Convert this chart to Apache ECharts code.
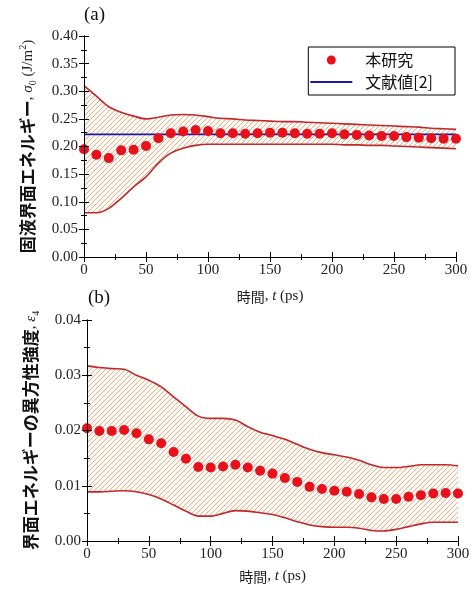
<!DOCTYPE html>
<html>
<head>
<meta charset="utf-8">
<script src="https://cdn.jsdelivr.net/npm/echarts@6/dist/echarts.min.js"></script>
<style>
  html, body { margin: 0; padding: 0; background: #fff; }
  #chart { width: 473px; height: 593px; }
</style>
</head>
<body>
<div id="chart"></div>
<script>
// time axis (ps)
const times = [0, 10, 20, 30, 40, 50, 60, 70, 80, 90, 100, 110, 120, 130, 140, 150,
  160, 170, 180, 190, 200, 210, 220, 230, 240, 250, 260, 270, 280, 290, 300];

// (a) solid-liquid interfacial energy
const sigmaMean = [0.195, 0.185, 0.179, 0.193, 0.194, 0.201, 0.215, 0.224, 0.227, 0.230, 0.228,
  0.224, 0.224, 0.223, 0.224, 0.225, 0.225, 0.224, 0.223, 0.223, 0.224, 0.222, 0.221, 0.220,
  0.219, 0.219, 0.217, 0.216, 0.215, 0.214, 0.214];
const sigmaUpper = [0.310, 0.291, 0.272, 0.262, 0.255, 0.250, 0.253, 0.257, 0.258, 0.257, 0.254,
  0.251, 0.250, 0.248, 0.247, 0.246, 0.245, 0.245, 0.244, 0.243, 0.242, 0.241, 0.240, 0.239,
  0.238, 0.237, 0.236, 0.235, 0.233, 0.232, 0.231];
const sigmaLower = [0.080, 0.080, 0.088, 0.106, 0.127, 0.145, 0.170, 0.188, 0.197, 0.202, 0.204,
  0.204, 0.204, 0.204, 0.204, 0.204, 0.204, 0.204, 0.204, 0.204, 0.204, 0.203, 0.203, 0.202,
  0.202, 0.201, 0.200, 0.199, 0.198, 0.197, 0.196];
const sigmaRef = 0.222;
const sigmaTicks = { min: 0, max: 0.4, interval: 0.05 };

// (b) anisotropy strength
const epsMean = [0.0204, 0.0199, 0.0199, 0.0201, 0.0195, 0.0184, 0.0177, 0.0161, 0.0149, 0.0134,
  0.0133, 0.0135, 0.0138, 0.0133, 0.0127, 0.0122, 0.0114, 0.0107, 0.0098, 0.0094, 0.0091,
  0.0089, 0.0085, 0.0079, 0.0076, 0.0076, 0.0080, 0.0083, 0.0086, 0.0087, 0.0086];
const epsUpper = [0.0317, 0.0314, 0.0312, 0.0311, 0.0300, 0.0291, 0.0279, 0.0261, 0.0243, 0.0226,
  0.0222, 0.0222, 0.0219, 0.0207, 0.0197, 0.0191, 0.0184, 0.0175, 0.0166, 0.0160, 0.0156,
  0.0152, 0.0146, 0.0138, 0.0133, 0.0133, 0.0135, 0.0138, 0.0138, 0.0138, 0.0136];
const epsLower = [0.0089, 0.0089, 0.0090, 0.0091, 0.0089, 0.0084, 0.0076, 0.0065, 0.0054, 0.0045,
  0.0045, 0.0050, 0.0055, 0.0054, 0.0051, 0.0048, 0.0042, 0.0035, 0.0029, 0.0026, 0.0025,
  0.0025, 0.0023, 0.0019, 0.0018, 0.0021, 0.0026, 0.0031, 0.0034, 0.0034, 0.0034];
const epsTicks = { min: 0, max: 0.04, interval: 0.01 };

const timeTicks = { min: 0, max: 300, interval: 50 };

const serif = '"Liberation Serif", "DejaVu Serif", serif';
const cjk = '"Noto Sans CJK JP", "Noto Sans", sans-serif';
const dotColor = '#e8101a';

// 斜線ハッチのパターン
function hatchPattern() {
    const s = 5;
    const c = document.createElement('canvas');
    c.width = s;
    c.height = s;
    const ctx = c.getContext('2d');
    ctx.fillStyle = '#fef8f2';
    ctx.fillRect(0, 0, s, s);
    ctx.strokeStyle = '#cfa07e';
    ctx.lineWidth = 0.75;
    ctx.beginPath();
    ctx.moveTo(-1, s + 1); ctx.lineTo(s + 1, -1);
    ctx.moveTo(-1, 1); ctx.lineTo(1, -1);
    ctx.moveTo(s - 1, s + 1); ctx.lineTo(s + 1, s - 1);
    ctx.stroke();
    return { image: c, repeat: 'repeat' };
}

const pair = (vals) => times.map((t, i) => [t, vals[i]]);

const axisLine = { show: true, lineStyle: { color: '#000', width: 1 } };
const tick = { show: true, inside: true, length: 5, lineStyle: { color: '#000' } };
const minor = { show: true, splitNumber: 2, length: 3, lineStyle: { color: '#000' } };

function xAxes(gridIndex, nameGap) {
    return [
        {
            type: 'value', gridIndex, ...timeTicks, z: 10,
            axisLine, axisTick: tick, minorTick: minor, splitLine: { show: false },
            axisLabel: { color: '#222', fontFamily: serif, fontSize: 15, margin: 6 },
            name: '{j|時間}{s|, }{i|t}{s| (ps)}',
            nameLocation: 'middle',
            nameGap,
            nameTextStyle: {
                rich: {
                    j: { fontFamily: cjk, fontSize: 14, color: '#222' },
                    s: { fontFamily: serif, fontSize: 15, color: '#222' },
                    i: { fontFamily: serif, fontSize: 15, fontStyle: 'italic', color: '#222' },
                },
            },
        },
        {
            type: 'value', gridIndex, position: 'top', ...timeTicks, z: 10,
            axisLine, axisTick: tick, minorTick: minor, splitLine: { show: false },
            axisLabel: { show: false },
        },
    ];
}

function yAxes(gridIndex, ticks, name, nameGap) {
    return [
        {
            type: 'value', gridIndex, ...ticks, z: 10,
            axisLine, axisTick: tick, minorTick: minor, splitLine: { show: false },
            axisLabel: {
                color: '#222', fontFamily: serif, fontSize: 15, margin: 6,
                formatter: (v) => v.toFixed(2),
            },
            name,
            nameLocation: 'middle',
            nameRotate: 90,
            nameGap,
            nameTextStyle: {
                rich: {
                    j: { fontFamily: cjk, fontSize: 17, fontWeight: 'bold', color: '#111' },
                    s: { fontFamily: serif, fontSize: 15, color: '#222' },
                    i: { fontFamily: serif, fontSize: 15, fontStyle: 'italic', color: '#222' },
                    sub: { fontFamily: serif, fontSize: 10, color: '#222', verticalAlign: 'bottom', lineHeight: 20 },
                    sup: { fontFamily: serif, fontSize: 10, color: '#222', verticalAlign: 'top', lineHeight: 20 },
                },
            },
        },
        {
            type: 'value', gridIndex, position: 'right', ...ticks, z: 10,
            axisLine, axisTick: tick, minorTick: minor, splitLine: { show: false },
            axisLabel: { show: false },
        },
    ];
}

// 上側を斜線で塗り、下側を白で塗り戻して帯にする
function bandSeries(idx, upper, lower) {
    const edge = { color: '#c0282a', width: 1.6 };
    return [
        {
            type: 'line', xAxisIndex: idx, yAxisIndex: idx,
            data: pair(upper), smooth: 0.3, symbol: 'none',
            lineStyle: edge, areaStyle: { color: hatchPattern(), opacity: 1, origin: 'start' },
            silent: true, z: 1,
        },
        {
            type: 'line', xAxisIndex: idx, yAxisIndex: idx,
            data: pair(lower), smooth: 0.3, symbol: 'none',
            lineStyle: edge, areaStyle: { color: '#fff', opacity: 1, origin: 'start' },
            silent: true, z: 2,
        },
    ];
}

const option = {
    animation: false,
    backgroundColor: '#fff',
    grid: [
        { left: 84, right: 17, top: 36, bottom: 336 },
        { left: 87, right: 15, top: 320, bottom: 52 },
    ],
    // grid 0 → axes 0,1 / grid 1 → axes 2,3
    xAxis: [...xAxes(0, 32), ...xAxes(1, 28)],
    yAxis: [
        ...yAxes(0, sigmaTicks, '{j|固液界面エネルギー}{s|, }{i|σ}{sub|0}{s| (J/m}{sup|2}{s|)}', 46),
        ...yAxes(1, epsTicks, '{j|界面エネルギーの異方性強度}{s|, }{i|ε}{sub|4}', 46),
    ],
    legend: {
        orient: 'vertical',
        right: 18,
        top: 47,
        z: 20,
        backgroundColor: '#fff',
        borderColor: '#000',
        borderWidth: 1,
        borderRadius: 0,
        padding: [5, 22, 5, 2],
        itemGap: 6,
        itemWidth: 42,
        itemHeight: 9,
        textStyle: { fontFamily: cjk, fontSize: 16, color: '#111', padding: [0, 0, 0, 8] },
        data: [
            { name: '本研究', icon: 'circle', itemStyle: { color: dotColor, opacity: 1 } },
            { name: '文献値[2]', icon: 'path://M0,0h40v2h-40z', itemStyle: { color: '#1c1ca0' } },
        ],
    },
    graphic: [
        { type: 'text', left: 84, top: 6, style: { text: '(a)', font: '19px ' + serif, fill: '#111' } },
        { type: 'text', left: 88, top: 289, style: { text: '(b)', font: '19px ' + serif, fill: '#111' } },
    ],
    series: [
        ...bandSeries(0, sigmaUpper, sigmaLower),
        {
            name: '文献値[2]', type: 'line', xAxisIndex: 0, yAxisIndex: 0,
            data: [[timeTicks.min, sigmaRef], [timeTicks.max, sigmaRef]],
            symbol: 'none', lineStyle: { color: '#1c1ca0', width: 1.6 }, itemStyle: { color: '#1c1ca0' }, z: 3,
        },
        {
            name: '本研究', type: 'scatter', xAxisIndex: 0, yAxisIndex: 0,
            data: pair(sigmaMean), symbol: 'circle', symbolSize: 10,
            itemStyle: { color: dotColor, opacity: 1 }, z: 5,
        },
        ...bandSeries(2, epsUpper, epsLower),
        {
            type: 'scatter', xAxisIndex: 2, yAxisIndex: 2,
            data: pair(epsMean), symbol: 'circle', symbolSize: 10,
            itemStyle: { color: dotColor, opacity: 1 }, z: 5,
        },
    ],
};

const myChart = echarts.init(document.getElementById('chart'), null, { renderer: 'canvas' });
myChart.setOption(option);
</script>
</body>
</html>
